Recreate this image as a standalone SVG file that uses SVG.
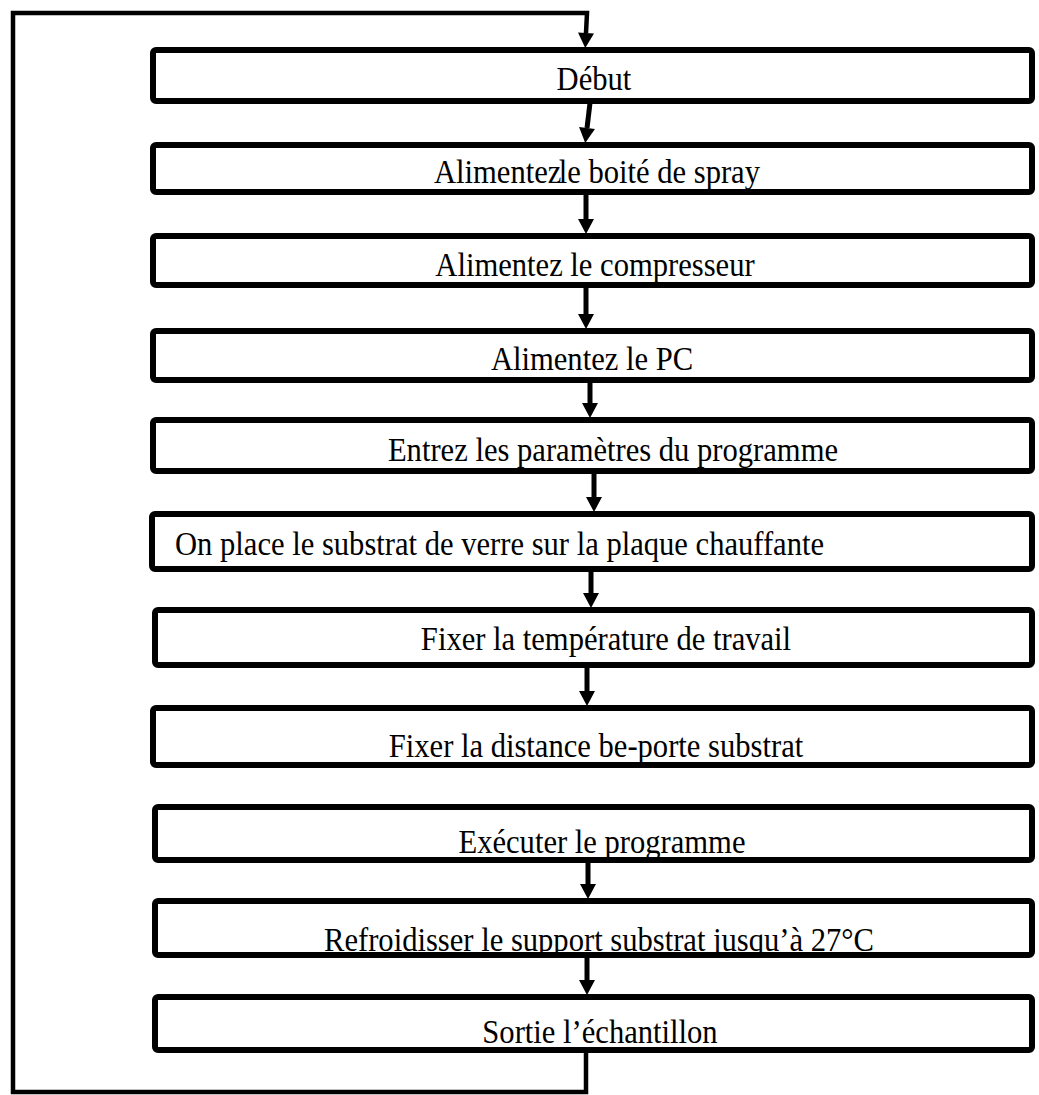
<svg xmlns="http://www.w3.org/2000/svg" width="1039" height="1095" viewBox="0 0 1039 1095">
<style>
.box{fill:#fff;stroke:#000;stroke-width:6}
.lbl{font-family:"Liberation Serif","Times New Roman",serif;font-size:34px;fill:#000}
.c{text-anchor:middle}
.arr{fill:none;stroke:#000;stroke-width:5}
.loop{fill:none;stroke:#000;stroke-width:4.5}
</style>
<defs>
<marker id="ah" markerUnits="userSpaceOnUse" markerWidth="18" markerHeight="18" refX="0" refY="8" orient="auto" overflow="visible">
<path d="M0,0 L15,8 L0,16 z" fill="#000"/>
</marker>
<clipPath id="c10"><rect x="156" y="904" width="873" height="48"/></clipPath>
</defs>
<g id="connectors">
<path class="loop" d="M586,1050 L586,1092 L13,1092 L13,13 L587,13 L586,33" marker-end="url(#ah)"/>
<path class="arr" d="M590,103 L587,128" marker-end="url(#ah)"/>
<path class="arr" d="M586,195 L586,219" marker-end="url(#ah)"/>
<path class="arr" d="M586,288 L586,314" marker-end="url(#ah)"/>
<path class="arr" d="M590,383 L590,403" marker-end="url(#ah)"/>
<path class="arr" d="M594,474 L594,497" marker-end="url(#ah)"/>
<path class="arr" d="M591,572 L591,593" marker-end="url(#ah)"/>
<path class="arr" d="M587,668 L587,691" marker-end="url(#ah)"/>
<path class="arr" d="M588,863 L588,884" marker-end="url(#ah)"/>
<path class="arr" d="M587,958 L587,980" marker-end="url(#ah)"/>
</g>
<g id="n1"><rect class="box" x="153" y="50" width="879" height="51" rx="3"/><text class="lbl c" x="594" y="90" transform="matrix(0.9,0,0,1,59.4,0)">Début</text></g>
<g id="n2"><rect class="box" x="153" y="145" width="879" height="47" rx="3"/><text class="lbl c" x="597" y="183" transform="matrix(0.9,0,0,1,59.7,0)">Alimentez<tspan dx="-3">le boité de spray</tspan></text></g>
<g id="n3"><rect class="box" x="153" y="236" width="879" height="49" rx="3"/><text class="lbl c" x="595" y="276" transform="matrix(0.9,0,0,1,59.5,0)">Alimentez le compresseur</text></g>
<g id="n4"><rect class="box" x="153" y="331" width="879" height="49" rx="3"/><text class="lbl c" x="592" y="370" transform="matrix(0.9,0,0,1,59.2,0)">Alimentez le PC</text></g>
<g id="n5"><rect class="box" x="153" y="420" width="879" height="51" rx="3"/><text class="lbl c" x="613" y="461" transform="matrix(0.9,0,0,1,61.3,0)">Entrez les paramètres du programme</text></g>
<g id="n6"><rect class="box" x="152" y="514" width="880" height="55" rx="3"/><text class="lbl" x="175" y="555" transform="matrix(0.9,0,0,1,17.5,0)">On place le substrat de verre sur la plaque chauffante</text></g>
<g id="n7"><rect class="box" x="155" y="610" width="877" height="55" rx="3"/><text class="lbl c" x="606" y="650" transform="matrix(0.9,0,0,1,60.6,0)">Fixer la température de travail</text></g>
<g id="n8"><rect class="box" x="153" y="708" width="879" height="57" rx="3"/><text class="lbl c" x="596" y="757" transform="matrix(0.9,0,0,1,59.6,0)">Fixer la distance be-porte substrat</text></g>
<g id="n9"><rect class="box" x="155" y="807" width="877" height="53" rx="3"/><text class="lbl c" x="602" y="853" transform="matrix(0.9,0,0,1,60.2,0)">Exécuter le programme</text></g>
<g id="n10"><rect class="box" x="155" y="901" width="877" height="54" rx="3"/><g clip-path="url(#c10)"><text class="lbl c" x="599" y="951" transform="matrix(0.9,0,0,1,59.9,0)">Refroidisser le support substrat jusqu’à 27°C</text></g></g>
<g id="n11"><rect class="box" x="155" y="997" width="877" height="53" rx="3"/><text class="lbl c" x="600" y="1043" transform="matrix(0.9,0,0,1,60,0)">Sortie l’échantillon</text></g>
</svg>
